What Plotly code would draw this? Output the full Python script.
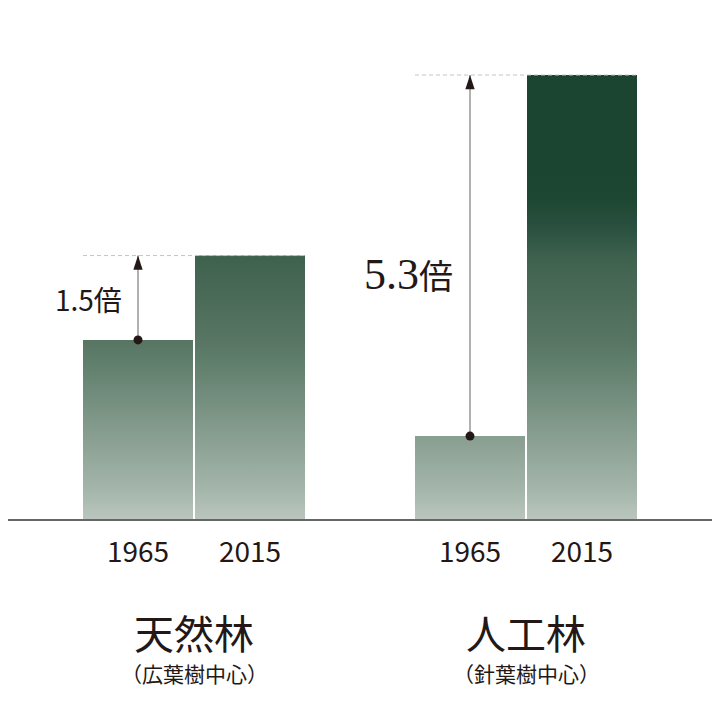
import plotly.graph_objects as go

# ---- data ----
groups = ["天然林", "人工林"]
subtitles = ["（広葉樹中心）", "（針葉樹中心）"]
years = ["1965", "2015"]
values_1965 = [1210, 560]
values_2015 = [1780, 3000]
ratio_labels = ["1.5倍", "5.3倍"]

# ---- style ----
TXT = "#231815"
SANS = "Noto Sans CJK JP"
SERIF = "'Liberation Serif', 'DejaVu Serif', serif"
GRADIENT = [
    [0.0, "#bac6bd"], [0.059, "#a6b7ac"], [0.187, "#889e90"],
    [0.36, "#5e7d6b"], [0.403, "#587563"], [0.592, "#3e614e"],
    [0.65, "#2b5140"], [0.72, "#1e4733"], [0.78, "#1b4530"], [1.0, "#1b4530"],
]
UNIT = 332.0                 # px between group centres
BAR_W = 110 / UNIT
GAP = 2 / UNIT
OFF = BAR_W / 2 + GAP / 2
VMAX = max(values_2015)
BASE_PX = 511                # baseline inside the figure div
YMAX = VMAX * BASE_PX / 444

fig = go.Figure()

centres = []
for gi in range(len(groups)):
    for yi, vals in enumerate([values_1965, values_2015]):
        c = gi + (-OFF if yi == 0 else OFF)
        centres.append(c)
        v = vals[gi]
        x0, x1 = c - BAR_W / 2, c + BAR_W / 2
        fig.add_trace(go.Scatter(
            x=[x0, x1, x1, x0, x0], y=[0, 0, v, v, 0],
            mode="lines", fill="toself", line=dict(width=0),
            fillgradient=dict(type="vertical", colorscale=GRADIENT,
                              start=0, stop=VMAX),
            hoverinfo="skip", showlegend=False))

for gi in range(len(groups)):
    c1 = gi - OFF
    c2 = gi + OFF
    v1 = values_1965[gi]
    v2 = values_2015[gi]
    # dashed reference line
    fig.add_trace(go.Scatter(
        x=[c1 - BAR_W / 2, c2 + BAR_W / 2], y=[v2, v2], mode="lines",
        line=dict(color="#c4c4c4", width=1, dash="4px,3px"),
        hoverinfo="skip", showlegend=False))
    # arrow shaft
    fig.add_trace(go.Scatter(
        x=[c1, c1], y=[v1, v2], mode="lines",
        line=dict(color="#b3b0b0", width=2),
        hoverinfo="skip", showlegend=False))
    # dot
    fig.add_trace(go.Scatter(
        x=[c1], y=[v1], mode="markers",
        marker=dict(symbol="circle", size=9, color=TXT, line=dict(width=0)),
        hoverinfo="skip", showlegend=False))
    # arrow head
    fig.add_trace(go.Scatter(
        x=[c1], y=[v2], mode="markers",
        marker=dict(symbol="arrow", size=15, angle=0, color=TXT,
                    line=dict(width=0)),
        hoverinfo="skip", showlegend=False))

# ratio labels
fig.add_annotation(x=0 - OFF, y=(values_1965[0] + values_2015[0]) / 2,
                   xref="x", yref="y", text=ratio_labels[0], showarrow=False,
                   xanchor="right", yanchor="middle", xshift=-14, yshift=-1,
                   font=dict(family=SANS, size=28, color=TXT))
r2 = ratio_labels[1]
fig.add_annotation(x=1 - OFF, y=(values_1965[1] + values_2015[1]) / 2,
                   xref="x", yref="y",
                   text=r2[:-1] + "<span style='font-family:Noto Sans CJK JP;font-size:34px'>" + r2[-1] + "</span>",
                   showarrow=False,
                   xanchor="right", yanchor="middle", xshift=-15, yshift=-19,
                   font=dict(family=SERIF, size=44, color=TXT))

# group titles
for gi, (g, s) in enumerate(zip(groups, subtitles)):
    fig.add_annotation(x=gi, y=0, xref="x", yref="y", text=g, showarrow=False,
                       xanchor="center", yanchor="middle", yshift=-113,
                       font=dict(family=SANS, size=40, color=TXT))
    fig.add_annotation(x=gi, y=0, xref="x", yref="y", text=s, showarrow=False,
                       xanchor="center", yanchor="middle", yshift=-154,
                       font=dict(family=SANS, size=21, color=TXT))

fig.update_layout(
    width=720, height=720,
    margin=dict(l=0, r=0, t=0, b=720 - BASE_PX),
    paper_bgcolor="white", plot_bgcolor="white",
    xaxis=dict(range=[-186 / UNIT, 534 / UNIT], showgrid=False, zeroline=False,
               showline=True, linecolor="#666666", linewidth=1.5,
               tickvals=centres, ticktext=years * len(groups), ticks="",
               ticklabelstandoff=8,
               tickfont=dict(family=SANS, size=28, color=TXT), fixedrange=True),
    yaxis=dict(range=[0, YMAX], visible=False, fixedrange=True),
)

fig.write_html("out.html")
